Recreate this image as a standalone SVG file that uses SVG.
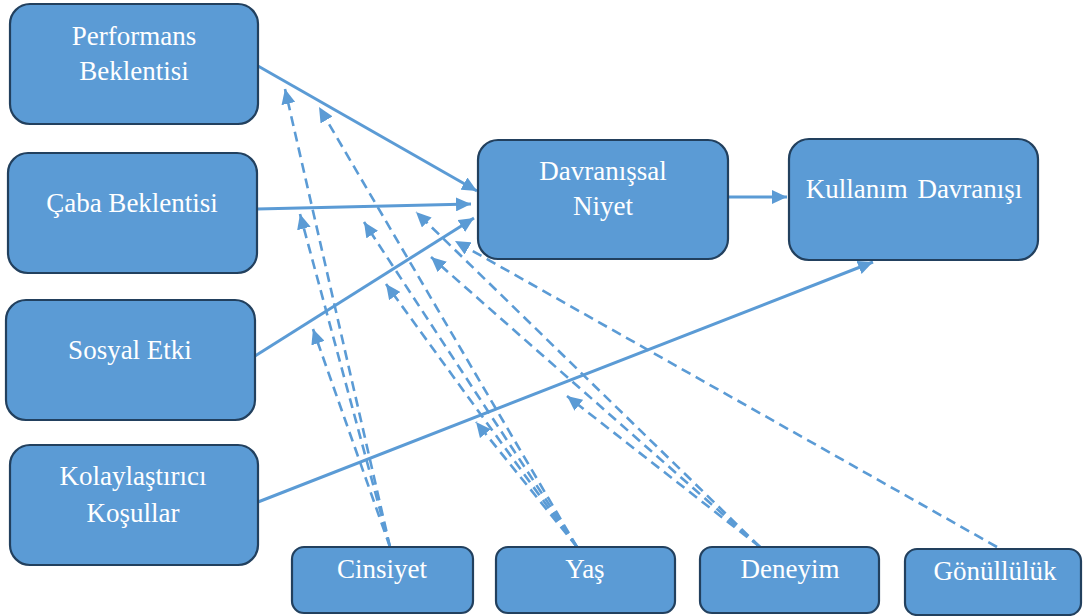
<svg xmlns="http://www.w3.org/2000/svg" width="1083" height="616" viewBox="0 0 1083 616">
  <style>
    .box { fill: #5B9BD5; stroke: #22405E; stroke-width: 2.2; }
    .lbl { fill: #FFFFFF; font-family: "Liberation Serif", "Times New Roman", serif; font-size: 27px; text-anchor: middle; }
    .solid { stroke: #5B9BD5; stroke-width: 3; fill: none; marker-end: url(#arrow); }
    .dash { stroke: #5B9BD5; stroke-width: 2.6; fill: none; stroke-dasharray: 10 6; marker-end: url(#arrow); }
  </style>
  <defs>
    <marker id="arrow" markerUnits="userSpaceOnUse" markerWidth="16" markerHeight="14" viewBox="0 0 16 14" refX="15" refY="7" orient="auto">
      <path d="M0,0 L15,7 L0,14 Z" fill="#5B9BD5"/>
    </marker>
  </defs>
  <rect width="1083" height="616" fill="#FFFFFF"/>

  <g id="connectors">
    <!-- main paths -->
    <line class="solid" x1="258" y1="66" x2="477" y2="191"/>
    <line class="solid" x1="257" y1="209" x2="471" y2="204"/>
    <line class="solid" x1="255" y1="356" x2="474" y2="218"/>
    <line class="solid" x1="728" y1="197" x2="787" y2="197"/>
    <line class="solid" x1="258" y1="502" x2="873" y2="262"/>
    <!-- moderators: Cinsiyet -->
    <line class="dash" x1="390" y1="547" x2="285" y2="89"/>
    <line class="dash" x1="390" y1="547" x2="300" y2="214"/>
    <line class="dash" x1="390" y1="547" x2="313" y2="329"/>
    <!-- moderators: Yaş -->
    <line class="dash" x1="577" y1="547" x2="319" y2="107"/>
    <line class="dash" x1="577" y1="547" x2="364" y2="222"/>
    <line class="dash" x1="577" y1="547" x2="386" y2="284"/>
    <line class="dash" x1="577" y1="547" x2="476" y2="422"/>
    <!-- moderators: Deneyim -->
    <line class="dash" x1="760" y1="547" x2="416" y2="212"/>
    <line class="dash" x1="760" y1="547" x2="431" y2="257"/>
    <line class="dash" x1="760" y1="547" x2="567" y2="396"/>
    <!-- moderators: Gönüllülük -->
    <line class="dash" x1="997" y1="547" x2="455" y2="241"/>
  </g>

  <g id="performans">
    <rect class="box" x="10" y="4" width="248" height="120" rx="20"/>
    <text class="lbl" x="134" y="45">Performans</text>
    <text class="lbl" x="134" y="80">Beklentisi</text>
  </g>
  <g id="caba">
    <rect class="box" x="8" y="153" width="249" height="120" rx="20"/>
    <text class="lbl" x="132" y="212">Çaba Beklentisi</text>
  </g>
  <g id="sosyal">
    <rect class="box" x="6" y="300" width="249" height="120" rx="20"/>
    <text class="lbl" x="130" y="359">Sosyal Etki</text>
  </g>
  <g id="kolaylastirici">
    <rect class="box" x="10" y="445" width="248" height="120" rx="20"/>
    <text class="lbl" x="133" y="485">Kolaylaştırıcı</text>
    <text class="lbl" x="133" y="522">Koşullar</text>
  </g>
  <g id="niyet">
    <rect class="box" x="478" y="140" width="250" height="119" rx="20"/>
    <text class="lbl" x="603" y="180">Davranışsal</text>
    <text class="lbl" x="603" y="215">Niyet</text>
  </g>
  <g id="kullanim">
    <rect class="box" x="789" y="139" width="249" height="121" rx="20"/>
    <text class="lbl" x="914" y="198" word-spacing="3">Kullanım Davranışı</text>
  </g>
  <g id="cinsiyet">
    <rect class="box" x="292" y="547" width="181" height="66" rx="12"/>
    <text class="lbl" x="382" y="578">Cinsiyet</text>
  </g>
  <g id="yas">
    <rect class="box" x="496" y="547" width="179" height="66" rx="12"/>
    <text class="lbl" x="585" y="578">Yaş</text>
  </g>
  <g id="deneyim">
    <rect class="box" x="700" y="547" width="179" height="66" rx="12"/>
    <text class="lbl" x="790" y="578">Deneyim</text>
  </g>
  <g id="gonulluluk">
    <rect class="box" x="905" y="549" width="176" height="66" rx="12"/>
    <text class="lbl" x="995" y="580">Gönüllülük</text>
  </g>
</svg>
